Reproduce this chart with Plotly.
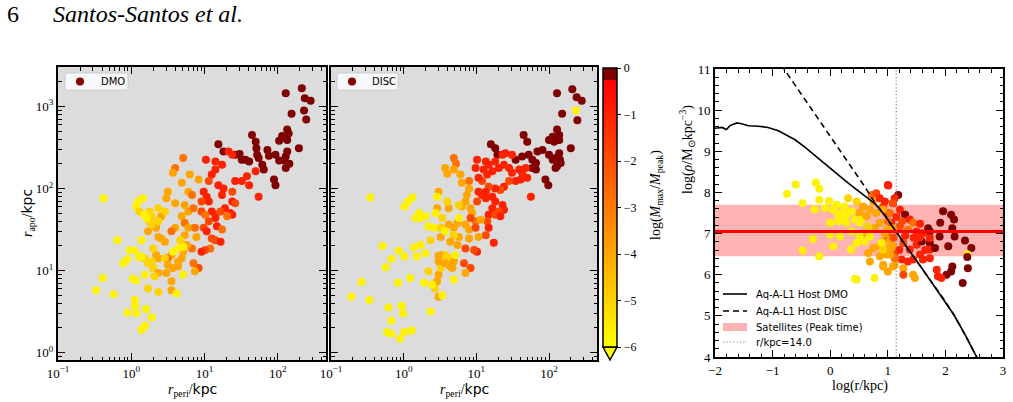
import numpy as np
import plotly.graph_objects as go

W, H = 1013, 402
def px(x): return x / W
def py(y): return 1 - y / H

# ---------------- DATA ----------------
# DMO panel: log10(r_peri/kpc), log10(r_apo/kpc), log10(Mmax/Mpeak)
dmo_log_rperi = [2.11,2.33,2.37,2.45,2.36,2.19,2.39,2.13,2.15,2.11,2.06,2.02,2.13,1.65,1.70,1.71,2.29,2.13,2.11,2.16,2.09,2.02,1.86,1.88,1.72,1.74,1.61,1.56,1.79,1.81,1.97,2.11,1.95,1.97,1.19,1.26,1.42,1.48,1.51,
    0.71,0.60,0.57,1.02,1.15,1.24,1.33,1.38,1.15,1.10,1.06,0.99,1.03,0.96,1.19,1.26,1.38,1.42,1.51,1.58,1.70,1.61,1.74,1.38,1.42,1.24,1.28,1.22,1.35,1.38,1.31,1.15,1.10,1.06,0.96,1.01,1.06,1.15,0.99,1.03,1.10,1.15,1.17,1.08,1.01,0.96,1.22,1.24,0.92,
    0.69,0.80,0.92,0.78,0.83,0.50,0.48,0.60,0.73,0.78,0.85,0.69,0.73,0.60,0.55,0.73,0.78,0.87,0.89,0.83,0.71,0.76,0.46,0.41,0.55,0.50,0.64,0.69,0.85,0.87,0.64,0.57,0.55,0.55,0.37,0.34,0.37,0.41,0.28,0.25,0.23,0.34,0.37,0.30,0.37,0.48,
    0.09,0.16,0.07,0.11,0.23,0.25,0.18,0.28,0.21,0.37,0.46,0.14,0.30,0.18,0.23,0.14,0.28,0.32,0.37,0.23,0.46,0.50,0.62,0.71,0.64,0.71,0.67,0.57,
    -0.38,-0.19,-0.05,-0.11,-0.39,-0.48,-0.24,0.02,0.07,0.05,0.11,0.19,0.05,0.05,-0.05,0.07,0.20,0.28,0.19,0.14,-0.02]
dmo_log_rapo = [3.16,3.22,3.10,3.07,2.95,2.91,2.84,2.72,2.67,2.62,2.64,2.58,2.59,2.65,2.57,2.49,2.49,2.45,2.39,2.30,2.34,2.34,2.47,2.40,2.41,2.37,2.33,2.35,2.29,2.23,2.41,2.25,2.11,2.04,2.54,2.45,2.41,2.42,2.35,
    2.37,2.25,2.19,2.35,2.33,2.29,2.45,2.41,2.23,2.17,2.09,1.96,1.90,1.84,2.04,2.00,1.96,2.09,2.09,2.15,2.21,2.04,1.90,1.84,1.82,1.92,1.76,1.72,1.70,1.68,1.66,1.68,1.72,1.84,1.72,1.68,1.60,1.64,1.52,1.48,1.39,1.37,1.54,1.27,1.25,1.23,1.35,1.50,1.03,
    2.07,2.17,2.11,1.96,1.92,1.96,1.88,1.82,1.80,1.72,1.76,1.66,1.58,1.52,1.48,1.43,1.52,1.52,1.41,1.27,1.23,1.31,1.35,1.39,1.19,1.15,1.11,1.15,1.09,0.99,1.05,1.03,0.87,0.76,1.76,1.52,1.41,1.66,1.66,1.60,1.48,1.19,1.15,1.03,0.97,0.97,
    1.84,1.88,1.78,1.72,1.64,1.72,1.68,1.56,1.64,1.60,1.72,1.37,1.27,1.15,1.09,1.17,1.11,0.93,0.74,0.78,1.15,1.07,0.72,0.95,1.27,1.29,1.37,1.23,
    1.88,1.37,1.14,1.09,0.91,0.76,0.71,0.90,0.88,1.24,1.16,0.95,0.64,0.57,0.49,0.48,0.53,0.43,0.33,0.28,1.25]
dmo_log_mratio = [-0.1]*39 + [
    -2.8,-2.8,-4.0,-1.0,-1.0,-1.0,-1.0,-1.0,-1.0,-1.0,-1.9,-1.0,-1.0,-1.9,-1.0,-1.0,-1.9,-1.0,-1.0,-1.0,-1.0,-1.0,-1.0,-1.0,-1.9,-1.0,-1.0,-1.9,-1.0,-1.0,-2.8,-1.9,-1.0,-1.0,-1.9,-2.8,-1.9,-1.0,-1.9,-1.0,-1.9,-1.9,-1.0,-2.8,-1.9,-1.0,-1.0,-2.8,-1.9,
    -4.0,-4.0,-4.0,-4.0,-2.8,-4.0,-4.0,-4.0,-4.0,-4.0,-2.8,-4.0,-2.8,-4.0,-2.8,-4.0,-4.0,-2.8,-4.0,-2.8,-4.0,-4.0,-4.0,-4.0,-4.0,-2.8,-4.0,-4.0,-2.8,-4.0,-4.0,-4.0,-4.0,-4.0,-5.0,-4.0,-4.0,-4.0,-5.0,-5.0,-4.0,-4.0,-4.0,-5.0,-4.0,-4.0,
    -5.7,-5.7,-5.7,-5.0,-5.0,-5.0,-5.7,-5.0,-5.7,-5.0,-5.0,-5.7,-5.0,-5.0,-5.0,-5.7,-5.0,-5.0,-5.0,-5.0,-5.0,-4.0,-5.7,-5.7,-5.7,-5.7,-5.0,-5.7] + [-5.7]*21

# DISC panel
disc_log_rperi = [2.11,2.32,2.38,2.45,2.18,2.39,2.11,2.14,2.05,2.00,2.07,2.14,1.65,1.70,1.20,1.26,1.29,1.54,1.63,1.72,1.77,1.82,1.84,1.91,2.00,2.05,2.09,2.14,2.15,2.11,2.09,2.16,2.30,1.95,1.99,1.82,1.77,
    2.37,
    0.69,0.72,0.57,0.60,1.01,1.13,1.17,1.26,1.36,1.40,1.49,1.38,1.31,1.22,1.15,1.08,1.03,0.99,1.10,1.45,1.49,1.59,1.63,1.68,1.70,1.61,1.54,1.45,1.38,1.33,1.26,1.17,1.13,1.08,1.03,1.01,1.13,1.22,1.26,1.36,1.38,1.31,1.22,1.17,1.15,1.26,1.33,1.75,1.17,1.13,1.24,1.01,0.97,0.92,
    0.69,0.78,0.80,0.90,0.90,0.87,0.80,0.85,0.76,0.92,0.94,0.99,1.06,0.92,0.85,0.90,0.99,1.03,0.90,0.85,0.74,0.76,0.62,0.48,0.46,0.53,0.62,0.69,0.74,0.76,0.69,0.64,0.51,0.51,0.53,0.62,0.69,0.67,0.83,0.85,0.48,0.46,0.48,0.64,
    -0.46,0.01,0.06,0.12,0.16,0.21,0.23,0.30,0.34,0.41,0.37,0.44,0.46,0.60,0.57,0.57,0.51,0.57,0.71,0.69,0.43,0.34,0.28,0.39,0.18,0.23,0.14,0.30,0.48,0.48,-0.29,-0.17,-0.07,0.01,-0.25,0.09,-0.08,-0.58,-0.72,-0.47,-0.21,-0.01,-0.17,-0.03,0.37,0.53,-0.23,-0.17,0.01,0.11,-0.05]
disc_log_rapo = [3.16,3.21,3.11,3.07,2.91,2.83,2.72,2.65,2.63,2.59,2.57,2.59,2.65,2.57,2.54,2.49,2.41,2.35,2.39,2.41,2.35,2.31,2.45,2.47,2.41,2.35,2.37,2.43,2.35,2.27,2.25,2.31,2.49,2.11,2.04,2.23,2.25,
    2.95,
    2.37,2.30,2.25,2.18,2.35,2.33,2.29,2.33,2.41,2.43,2.41,2.29,2.25,2.21,2.17,2.09,2.13,2.25,2.23,2.25,2.19,2.23,2.19,2.25,2.13,2.11,2.09,2.09,2.02,1.98,2.00,2.02,1.96,1.92,1.96,1.84,1.88,1.90,1.84,1.80,1.74,1.72,1.76,1.68,1.60,1.68,1.66,1.90,1.52,1.43,1.34,1.23,1.25,1.03,
    2.23,2.17,2.07,2.09,2.00,1.92,1.78,1.84,1.80,1.76,1.70,1.60,1.62,1.64,1.56,1.50,1.52,1.41,1.39,1.27,1.31,1.41,1.76,1.96,1.76,1.64,1.56,1.52,1.58,1.64,1.43,1.35,1.52,1.41,1.19,1.15,1.11,1.03,1.09,0.97,0.95,0.87,0.68,1.05,
    1.89,1.78,1.84,1.89,1.64,1.70,1.64,1.66,1.54,1.52,1.37,1.70,1.90,1.84,1.48,1.19,1.03,1.09,1.19,0.89,0.78,0.99,0.85,0.83,1.17,1.31,1.28,1.21,1.18,1.11,1.30,1.14,1.24,1.17,1.04,0.91,0.85,0.86,0.68,0.64,0.55,0.48,0.39,0.57,0.50,0.70,0.25,0.23,0.25,0.27,0.17]
disc_log_mratio = [-0.1]*37 + [-5.7] + [
    -2.8,-2.8,-4.0,-4.0,-1.0,-1.0,-1.0,-1.0,-1.0,-1.0,-1.0,-1.0,-1.0,-1.0,-1.0,-1.9,-1.0,-1.0,-1.0,-1.0,-1.0,-1.0,-1.0,-1.0,-1.0,-1.0,-1.0,-1.9,-1.0,-1.9,-1.0,-1.9,-1.0,-1.0,-1.0,-1.9,-1.0,-1.0,-1.0,-1.0,-1.0,-1.9,-1.0,-1.0,-1.9,-1.9,-1.0,-1.0,-1.0,-1.9,-1.0,-1.0,-1.9,-1.9,
    -4.0,-4.0,-4.0,-2.8,-4.0,-4.0,-4.0,-4.0,-5.0,-4.0,-4.0,-2.8,-4.0,-1.9,-4.0,-4.0,-1.9,-4.0,-4.0,-1.9,-4.0,-4.0,-4.0,-4.0,-4.0,-5.0,-4.0,-4.0,-4.0,-5.7,-5.0,-4.0,-5.0,-4.0,-4.0,-5.0,-4.0,-4.0,-1.9,-4.0,-4.0,-4.0,-4.0,-4.0,
    -5.7,-5.7,-5.7,-5.7,-5.7,-5.7,-5.7,-5.7,-5.7,-5.7,-5.0,-5.7,-5.7,-5.0,-5.7,-5.0,-5.0,-4.0,-5.7,-5.7,-5.0,-5.0,-5.7,-5.7,-5.7,-5.7,-5.7,-5.7,-4.0,-4.0,-5.7,-5.7,-5.7,-5.7,-5.7,-5.7,-5.7,-5.7,-5.7,-5.7,-5.7,-5.7,-5.7,-5.7,-5.7,-5.7,-5.7,-5.7,-5.7,-5.7,-5.7]

# Right panel: satellites at peak time, log10(r/kpc), log10(rho / Msun kpc^-3)
sat_log_r = [-0.60,-0.75,-0.25,-0.19,-0.48,-0.19,-0.02,-0.09,-0.27,0.05,0.11,0.25,0.31,0.46,0.37,0.20,0.14,0.00,0.28,0.43,0.51,0.57,0.54,0.63,0.69,0.75,0.72,0.80,0.86,1.00,0.92,0.98,1.09,0.80,0.86,0.77,0.66,0.57,0.69,0.60,0.51,0.46,0.37,0.17,0.00,-0.30,0.05,-0.48,-0.19,0.36,0.75,0.86,0.92,1.00,1.03,0.98,0.86,0.69,0.66,0.92,1.00,1.12,1.12,1.15,1.06,0.46,0.43,0.77,0.51,0.28,0.14,0.23,
    1.01,1.18,1.12,0.95,1.09,0.92,1.04,1.21,1.30,1.38,1.44,1.56,1.70,1.73,1.61,1.50,1.35,1.21,1.09,0.98,0.89,0.92,1.04,1.09,1.27,1.38,1.50,1.59,1.73,1.73,1.90,2.05,1.96,1.91,2.10,2.15,2.12,2.16,2.34,2.45,2.38,2.38,2.39,2.12,2.10,2.02,1.85,1.87,1.93,2.30,1.44,1.47,1.27,1.27,1.09,0.92,1.73,1.61,1.56,1.44,1.35,1.24,1.12,1.04,1.73,1.82,
    1.15,1.25,1.00,1.30,1.45,1.20,1.10,0.95,1.55,1.65]
sat_log_rho = [8.19,7.97,8.24,8.09,7.74,7.82,7.80,7.62,7.59,7.58,7.70,7.66,7.86,7.78,7.54,7.50,7.30,7.26,7.26,7.34,7.50,7.66,7.34,7.42,7.58,7.78,7.94,7.98,7.86,8.18,7.66,7.50,7.74,7.50,7.26,7.13,7.17,7.01,6.93,6.81,6.93,6.77,7.05,6.93,6.97,6.87,6.69,6.59,6.45,6.61,6.65,6.69,6.81,6.93,6.65,6.49,6.45,6.32,6.53,6.24,6.08,6.24,6.49,7.09,7.26,5.88,5.90,5.92,7.26,7.46,7.46,7.38,
    8.17,7.94,7.86,7.78,7.74,7.58,7.50,7.58,7.46,7.34,7.26,7.24,7.13,7.05,7.01,7.05,7.09,7.17,7.13,7.09,6.77,6.61,6.85,6.69,6.77,6.61,6.73,6.81,6.77,6.89,6.93,6.69,7.54,7.26,7.46,7.34,7.13,6.93,6.83,6.65,6.50,6.43,6.16,6.20,6.08,6.00,6.12,5.96,5.92,5.80,6.00,5.92,6.16,6.00,6.20,6.20,6.40,6.37,6.49,6.37,6.32,6.37,6.40,6.49,6.61,6.65,
    7.40,7.30,7.30,6.95,6.90,6.60,6.90,7.00,6.90,6.60]
sat_log_mratio = [-5.7,-5.7,-5.7,-5.7,-5.7,-5.7,-5.7,-5.7,-5.7,-5.7,-5.7,-5.7,-5.0,-5.0,-5.7,-5.7,-5.7,-5.7,-5.7,-5.7,-4.0,-4.0,-5.7,-4.0,-4.0,-4.0,-2.8,-1.9,-1.0,-1.0,-1.9,-1.0,-1.0,-4.0,-4.0,-4.0,-5.0,-4.0,-5.7,-5.7,-5.7,-5.7,-5.7,-5.7,-5.7,-5.7,-5.7,-5.7,-5.7,-5.7,-4.0,-4.0,-4.0,-1.9,-4.0,-4.0,-4.0,-4.0,-4.0,-4.0,-4.0,-4.0,-1.9,-1.0,-1.0,-5.7,-5.7,-5.7,-5.7,-5.7,-5.7,-5.7,
    -1.0,-0.1,-1.0,-1.0,-1.9,-4.0,-2.8,-1.0,-0.1,-1.0,-2.8,-1.0,-0.1,-0.1,-1.0,-1.0,-2.8,-1.9,-4.0,-4.0,-5.7,-5.0,-4.0,-4.0,-1.9,-1.0,-1.0,-0.1,-0.1,-1.0,-0.1,-0.1,-0.1,-0.1,-0.1,-0.1,-0.1,-0.1,-0.1,-0.1,-5.7,-0.1,-0.1,-0.1,-0.1,-0.1,-1.0,-1.0,-1.0,-0.1,-4.0,-4.0,-4.0,-1.9,-4.0,-4.0,-1.0,-1.0,-1.0,-1.0,-1.0,-1.0,-2.8,-4.0,-1.0,-0.1,
    -1.0,-1.9,-2.8,-1.0,-1.0,-1.0,-1.9,-4.0,-1.0,-1.0]

# Host density profiles
dmo_prof_logr = [-2.00,-1.95,-1.88,-1.80,-1.74,-1.68,-1.62,-1.54,-1.42,-1.25,-1.08,-0.90,-0.79,-0.61,-0.44,-0.27,-0.09,0.08,0.25,0.43,0.60,0.78,0.95,1.15,1.35,1.55,1.75,1.96,2.15,2.35,2.55]
dmo_prof_logrho = [9.56,9.57,9.58,9.53,9.62,9.66,9.69,9.67,9.62,9.61,9.58,9.50,9.42,9.28,9.10,8.90,8.70,8.50,8.30,8.10,7.92,7.72,7.44,7.02,6.63,6.24,5.84,5.43,5.02,4.52,3.98]
disc_prof_logr = [-0.85,-0.60,-0.40,-0.20,0.00,0.20,0.40,0.60,0.78,0.95,1.15,1.35,1.55,1.75,1.96,2.15,2.35,2.55]
disc_prof_logrho = [11.10,10.59,10.18,9.78,9.37,8.96,8.55,8.14,7.74,7.44,7.02,6.63,6.24,5.84,5.43,5.02,4.52,3.98]

sat_rho_mean, sat_rho_lo, sat_rho_hi = 7.05, 6.45, 7.70
r_cut = 14.0

for a, b, c in [(dmo_log_rperi, dmo_log_rapo, dmo_log_mratio), (disc_log_rperi, disc_log_rapo, disc_log_mratio), (sat_log_r, sat_log_rho, sat_log_mratio)]:
    assert len(a) == len(b) == len(c), (len(a), len(b), len(c))

# ---------------- FIGURE ----------------
cscale = [[0.0, "#ffff00"], [0.9583, "#ff0000"], [0.9583, "#800000"], [1.0, "#800000"]]
SERIF = "Liberation Serif"
SANS = "DejaVu Sans"
MS = 8
DOT = "1.2px,2.2px"

fig = go.Figure()
fig.add_trace(go.Scatter(x=10 ** np.array(dmo_log_rperi), y=10 ** np.array(dmo_log_rapo), mode="markers",
                         marker=dict(color=dmo_log_mratio, coloraxis="coloraxis", size=MS, line=dict(width=0)),
                         xaxis="x", yaxis="y", name="DMO"))
fig.add_trace(go.Scatter(x=10 ** np.array(disc_log_rperi), y=10 ** np.array(disc_log_rapo), mode="markers",
                         marker=dict(color=disc_log_mratio, coloraxis="coloraxis", size=MS, line=dict(width=0)),
                         xaxis="x2", yaxis="y2", name="DISC"))
fig.add_trace(go.Scatter(x=sat_log_r, y=sat_log_rho, mode="markers",
                         marker=dict(color=sat_log_mratio, coloraxis="coloraxis", size=MS, line=dict(width=0)),
                         xaxis="x3", yaxis="y3", name="Satellites"))
fig.add_trace(go.Scatter(x=dmo_prof_logr, y=dmo_prof_logrho, mode="lines", line=dict(color="black", width=1.6),
                         xaxis="x3", yaxis="y3", name="Aq-A-L1 Host DMO"))
fig.add_trace(go.Scatter(x=disc_prof_logr, y=disc_prof_logrho, mode="lines", line=dict(color="black", width=1.6, dash="6px,4px"),
                         xaxis="x3", yaxis="y3", name="Aq-A-L1 Host DISC"))

axis_common = dict(showline=True, linewidth=2, linecolor="black", mirror="allticks", ticks="inside",
                   ticklen=7, tickwidth=1, tickcolor="black", showgrid=False, zeroline=False, automargin=False,
                   tickfont=dict(family=SERIF, size=13, color="black"))
xminor_vals = [k * 10.0 ** e for e in (-1, 0, 1, 2) for k in range(2, 10)]
yminor_vals = [k * 10.0 ** e for e in (-1, 0, 1, 2, 3) for k in range(2, 10)]
log_minor_x = dict(ticks="inside", ticklen=3.5, tickwidth=1, tickcolor="black", showgrid=False,
                   tickmode="array", tickvals=xminor_vals)
log_minor_y = dict(ticks="inside", ticklen=3.5, tickwidth=1, tickcolor="black", showgrid=False,
                   tickmode="array", tickvals=yminor_vals)
lin_minor = dict(ticks="inside", ticklen=3.5, tickwidth=1, tickcolor="black", showgrid=False, dtick=0.2)

xt_vals = [0.1, 1, 10, 100]
xt_text = ["10<sup>\u22121</sup>", "10<sup>0</sup>", "10<sup>1</sup>", "10<sup>2</sup>"]
yt_vals = [1, 10, 100, 1000]
yt_text = ["10<sup>0</sup>", "10<sup>1</sup>", "10<sup>2</sup>", "10<sup>3</sup>"]

fig.update_layout(
    xaxis=dict(axis_common, type="log", range=[-1, 2.66], domain=[px(58), px(326)], anchor="y",
               tickmode="array", tickvals=xt_vals, ticktext=xt_text, minor=log_minor_x),
    yaxis=dict(axis_common, type="log", range=[-0.09, 3.48], domain=[py(360), py(67)], anchor="x",
               tickmode="array", tickvals=yt_vals, ticktext=yt_text, minor=log_minor_y),
    xaxis2=dict(axis_common, type="log", range=[-1, 2.66], domain=[px(331), px(597)], anchor="y2",
                tickmode="array", tickvals=xt_vals, ticktext=xt_text, minor=log_minor_x),
    yaxis2=dict(axis_common, type="log", range=[-0.09, 3.48], domain=[py(360), py(67)], anchor="x2",
                tickmode="array", tickvals=yt_vals, showticklabels=False, minor=log_minor_y),
    xaxis3=dict(axis_common, range=[-2, 3], dtick=1, domain=[px(715), px(1003)], anchor="y3", minor=lin_minor),
    yaxis3=dict(axis_common, range=[4, 11], dtick=1, domain=[py(357), py(69)], anchor="x3", minor=lin_minor),
    coloraxis=dict(cmin=-6, cmax=0, colorscale=cscale,
                   colorbar=dict(x=px(603), xanchor="left", y=py(68), yanchor="top", len=279, lenmode="pixels",
                                 thickness=14, thicknessmode="pixels", outlinewidth=1.5, outlinecolor="black",
                                 ticks="outside", ticklen=4, tickcolor="black", tickvals=[0, -1, -2, -3, -4, -5, -6],
                                 tickfont=dict(family=SERIF, size=12, color="black"), xpad=0, ypad=0,
                                 title=dict(text=""))),
    width=W, height=H, autosize=False, margin=dict(l=0, r=0, t=0, b=0, pad=0),
    paper_bgcolor="white", plot_bgcolor="white", showlegend=False,
)

shapes = []
# grey panel backgrounds
for xr, yr in [("x", "y"), ("x2", "y2")]:
    shapes.append(dict(type="rect", xref=f"{xr} domain", yref=f"{yr} domain", x0=0, x1=1, y0=0, y1=1,
                       fillcolor="#dcdcdc", line=dict(width=0), layer="below"))
# satellites band and mean
shapes.append(dict(type="rect", xref="x3 domain", yref="y3", x0=0, x1=1, y0=sat_rho_lo, y1=sat_rho_hi,
                   fillcolor="#ffb3b3", line=dict(width=0), layer="below"))
shapes.append(dict(type="line", xref="x3 domain", yref="y3", x0=0, x1=1, y0=sat_rho_mean, y1=sat_rho_mean,
                   line=dict(color="#ff0000", width=3), layer="above"))
shapes.append(dict(type="line", xref="x3", yref="y3 domain", x0=np.log10(r_cut), x1=np.log10(r_cut), y0=0, y1=1,
                   line=dict(color="#808080", width=1.2, dash=DOT), layer="above"))
# colorbar extension triangle
shapes.append(dict(type="path", xref="paper", yref="paper",
                   path=f"M {px(603)},{py(347)} L {px(617)},{py(347)} L {px(610)},{py(360)} Z",
                   fillcolor="#ffff00", line=dict(color="black", width=1.5)))
# left / middle panel legend boxes
for (bx0, bx1, mx) in [(65, 128, 80), (337, 398, 352)]:
    shapes.append(dict(type="rect", xref="paper", yref="paper", x0=px(bx0), x1=px(bx1), y0=py(90), y1=py(73),
                       fillcolor="rgba(255,255,255,0.8)", line=dict(color="#cccccc", width=1)))
    shapes.append(dict(type="circle", xref="paper", yref="paper", x0=px(mx - 4), x1=px(mx + 4), y0=py(85.5), y1=py(77.5),
                       fillcolor="#800000", line=dict(width=0)))
# right panel legend handles
leg_rows = [294, 311, 327, 342]
shapes.append(dict(type="line", xref="paper", yref="paper", x0=px(723), x1=px(747), y0=py(leg_rows[0]), y1=py(leg_rows[0]),
                   line=dict(color="black", width=1.6)))
shapes.append(dict(type="line", xref="paper", yref="paper", x0=px(723), x1=px(747), y0=py(leg_rows[1]), y1=py(leg_rows[1]),
                   line=dict(color="black", width=1.6, dash="6px,4px")))
shapes.append(dict(type="rect", xref="paper", yref="paper", x0=px(723), x1=px(747), y0=py(leg_rows[2] + 4), y1=py(leg_rows[2] - 4),
                   fillcolor="#ffb3b3", line=dict(width=0)))
shapes.append(dict(type="line", xref="paper", yref="paper", x0=px(723), x1=px(747), y0=py(leg_rows[3]), y1=py(leg_rows[3]),
                   line=dict(color="#808080", width=1.2, dash=DOT)))
fig.update_layout(shapes=shapes)

ann = []
def add_text(text, x, y, size, family, xanchor="center", angle=0, yanchor="middle"):
    ann.append(dict(text=text, x=px(x), y=py(y), xref="paper", yref="paper", showarrow=False,
                    xanchor=xanchor, yanchor=yanchor, textangle=angle, borderpad=0,
                    font=dict(family=family, size=size, color="black")))

add_text("6", 6, 14, 24, SERIF, xanchor="left")
add_text("<i>Santos-Santos et al.</i>", 52, 14, 24, SERIF, xanchor="left")
kpc = f"<span style='font-family:{SANS}'>kpc</span>"
add_text(f"<i>r</i><sub>peri</sub>/{kpc}", 192, 390, 14, SERIF)
add_text(f"<i>r</i><sub>peri</sub>/{kpc}", 464, 390, 14, SERIF)
add_text(f"<i>r</i><sub>apo</sub>/{kpc}", 28, 213, 14, SERIF, angle=-90)
add_text("log(<i>M</i><sub>max</sub>/<i>M</i><sub>peak</sub>)", 657, 195, 14, SERIF, angle=-90)
add_text("log(r/kpc)", 860, 386, 14, SERIF)
add_text("log(<i>\u03c1</i>/M<sub>\u2299</sub>kpc<sup>\u22123</sup>)", 687, 150, 14, SERIF, angle=-90)
add_text("DMO", 100, 81.5, 10, SANS, xanchor="left")
add_text("DISC", 371, 81.5, 10, SANS, xanchor="left")
leg_labels = ["Aq-A-L1 Host DMO", "Aq-A-L1 Host DISC", "Satellites (Peak time)", f"r/kpc={r_cut:.1f}"]
for lab, yy in zip(leg_labels, leg_rows):
    add_text(lab, 755, yy, 10, SANS, xanchor="left")
fig.update_layout(annotations=ann)

fig.write_html("out.html")
